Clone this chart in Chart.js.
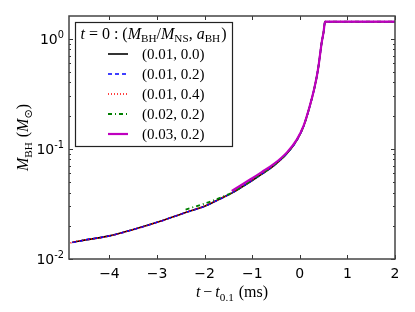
<!DOCTYPE html>
<html>
<head>
<meta charset="utf-8">
<script src="https://cdn.jsdelivr.net/npm/chart.js@4.4.0/dist/chart.umd.min.js"></script>
<style>
html,body{margin:0;padding:0;background:#fff;}
canvas{display:block;}
</style>
</head>
<body>
<canvas id="c" width="415" height="312"></canvas>
<script>
// ---- data (t - t_0.1 in ms, M_BH in solar masses) ----
const times    = [-4.82, -4.78, -4.5, -4.0, -3.5, -3.0, -2.5, -2.4, -2.0, -1.8, -1.5, -1.43, -1.0, -0.8, -0.55, -0.27, -0.06, 0.08, 0.2, 0.3, 0.36, 0.4, 0.43, 0.46, 0.5, 0.53, 1.0, 1.5, 2.0];
const mBlack   = [null, 0.0142, 0.0149, 0.0162, 0.0185, 0.0215, 0.0255, 0.0264, 0.0301, 0.0330, 0.0382, 0.0396, 0.0515, 0.0588, 0.0700, 0.0905, 0.120, 0.160, 0.235, 0.345, 0.460, 0.590, 0.740, 0.920, 1.15, 1.42, 1.42, 1.42, 1.42];
const mBlue    = [null, 0.0141, 0.0149, 0.0162, 0.0185, 0.0215, 0.0255, 0.0264, 0.0301, 0.0330, 0.0382, 0.0397, 0.0517, 0.0590, 0.0702, 0.0907, 0.120, 0.160, 0.235, 0.345, 0.460, 0.590, 0.740, 0.920, 1.15, 1.42, 1.42, 1.42, 1.42];
const mRed     = [0.0140, 0.0142, 0.0149, 0.0162, 0.0185, 0.0215, 0.0255, 0.0264, 0.0302, 0.0331, 0.0383, 0.0397, 0.0518, 0.0591, 0.0704, 0.0910, 0.121, 0.161, 0.236, 0.346, 0.461, 0.591, 0.741, 0.921, 1.15, 1.42, 1.42, 1.42, 1.42];
const mGreen   = [null, null, null, null, null, null, null, 0.0281, 0.0318, 0.0342, 0.0386, 0.0398, 0.0520, 0.0594, 0.0707, 0.0913, 0.121, 0.161, 0.236, 0.346, 0.461, 0.591, 0.741, 0.921, 1.15, 1.42, 1.42, 1.42, 1.42];
const mMagenta = [null, null, null, null, null, null, null, null, null, null, null, 0.0414, 0.0540, 0.0614, 0.0724, 0.0927, 0.1216, 0.162, 0.237, 0.347, 0.462, 0.592, 0.742, 0.922, 1.15, 1.42, 1.42, 1.42, 1.42];
const seriesLabels = ['(0.01, 0.0)', '(0.01, 0.2)', '(0.01, 0.4)', '(0.02, 0.2)', '(0.03, 0.2)'];
const xTicks = [-4, -3, -2, -1, 0, 1, 2];
const yDecades = [-2, -1, 0];

const pts = arr => times.map((t, i) => ({x: t, y: arr[i]})).filter(p => p.y !== null);

const SERIF = '"Liberation Serif", "DejaVu Serif", serif';
const SANS = '"DejaVu Sans", sans-serif';

function drawRich(ctx, parts, x, y, size, measureOnly, extra) {
  let cx = x;
  for (const p of parts) {
    const s = (p.sub || p.sup) ? size * 0.7 : size;
    ctx.font = (p.i ? 'italic ' : '') + s + 'px ' + (p.f || SERIF);
    const dy = p.sub ? size * 0.22 : (p.sup ? -size * 0.42 : 0);
    if (!measureOnly) ctx.fillText(p.t, cx, y + dy);
    cx += ctx.measureText(p.t).width + (p.sp || 0) + (p.gap && extra ? extra : 0);
  }
  return cx - x;
}

const decor = {
  id: 'decor',
  afterDatasetsDraw(chart) {
    const ctx = chart.ctx, a = chart.chartArea;
    const xs = chart.scales.x, ys = chart.scales.y;
    ctx.save();
    ctx.strokeStyle = '#333';
    ctx.fillStyle = '#000';
    ctx.lineWidth = 1;
    // inward ticks
    ctx.beginPath();
    for (const t of xTicks) {
      const px = Math.round(xs.getPixelForValue(t)) + 0.5;
      ctx.moveTo(px, a.bottom); ctx.lineTo(px, a.bottom - 4);
      ctx.moveTo(px, a.top); ctx.lineTo(px, a.top + 4);
    }
    for (let d = -2; d <= 0; d++) {
      for (let k = 1; k <= 9; k++) {
        const v = k * Math.pow(10, d);
        if (v < ys.min || v > ys.max) continue;
        const py = Math.round(ys.getPixelForValue(v)) + 0.5;
        const len = k === 1 ? 4 : 2;
        ctx.moveTo(a.left, py); ctx.lineTo(a.left + len, py);
        ctx.moveTo(a.right, py); ctx.lineTo(a.right - len, py);
      }
    }
    ctx.stroke();
    // frame
    ctx.strokeStyle = '#444';
    ctx.lineWidth = 1.5;
    ctx.strokeRect(a.left, a.top, a.right - a.left, a.bottom - a.top);
    // x tick labels
    ctx.font = '14px ' + SANS;
    ctx.textAlign = 'center';
    ctx.textBaseline = 'alphabetic';
    for (const t of xTicks) {
      const lbl = t < 0 ? '\u2212' + Math.abs(t) : String(t);
      ctx.fillText(lbl, xs.getPixelForValue(t), a.bottom + 19);
    }
    // y tick labels
    ctx.textAlign = 'left';
    for (const d of yDecades) {
      const py = ys.getPixelForValue(Math.pow(10, d));
      const parts = [{t: '10', f: SANS}, {t: d < 0 ? '-' + Math.abs(d) : String(d), sup: true, f: SANS}];
      const w = drawRich(ctx, parts, 0, 0, 14, true);
      drawRich(ctx, parts, a.left - 5 - w, py + 5, 14);
    }
    // x axis title
    const xParts = [{t: 't', i: true, sp: 3}, {t: '\u2212', sp: 3}, {t: 't', i: true}, {t: '0.1', sub: true, sp: 5}, {t: '(ms)'}];
    const xw = drawRich(ctx, xParts, 0, 0, 16, true);
    drawRich(ctx, xParts, (a.left + a.right) / 2 - xw / 2, a.bottom + 38, 16);
    // y axis title
    const yParts = [{t: 'M', i: true}, {t: 'BH', sub: true, sp: 5}, {t: '('}, {t: 'M', i: true}, {t: '\u2299', sub: true, f: SANS}, {t: ')'}];
    const yw = drawRich(ctx, yParts, 0, 0, 16, true);
    ctx.save();
    ctx.translate(28, (a.top + a.bottom) / 2);
    ctx.rotate(-Math.PI / 2);
    drawRich(ctx, yParts, -yw / 2, 0, 16);
    ctx.restore();
    // legend
    const lx = 75.5, ly = 22.5, lw = 157, lh = 124;
    ctx.fillStyle = '#fff';
    ctx.fillRect(lx, ly, lw, lh);
    ctx.lineWidth = 1.2;
    ctx.strokeStyle = '#222';
    ctx.strokeRect(lx, ly, lw, lh);
    ctx.fillStyle = '#000';
    const title = [{t: 't', i: true, gap: 1}, {t: '=', gap: 1}, {t: '0', gap: 1}, {t: ':', gap: 1}, {t: '('}, {t: 'M', i: true}, {t: 'BH', sub: true}, {t: '/'}, {t: 'M', i: true}, {t: 'NS', sub: true}, {t: ',', gap: 1}, {t: 'a', i: true}, {t: 'BH', sub: true, sp: 1}, {t: ')'}];
    const tw = drawRich(ctx, title, 0, 0, 16, true);
    const extra = Math.max(0, (146 - tw) / 5);
    drawRich(ctx, title, 80.5, ly + 16, 16, false, extra);
    chart.data.datasets.forEach((ds, i) => {
      const yy = ly + 31.5 + i * 20;
      ctx.save();
      ctx.strokeStyle = ds.borderColor;
      ctx.lineWidth = ds.borderWidth;
      ctx.setLineDash(ds.borderDash || []);
      ctx.beginPath();
      ctx.moveTo(108, yy); ctx.lineTo(128, yy);
      ctx.stroke();
      ctx.restore();
      ctx.font = '15px ' + SERIF;
      ctx.fillStyle = '#000';
      ctx.textAlign = 'left';
      ctx.fillText(ds.label, 142, yy + 5);
    });
    ctx.restore();
  }
};

new Chart(document.getElementById('c'), {
  type: 'line',
  data: {
    datasets: [
      {label: seriesLabels[0], data: pts(mBlack), borderColor: '#000000', borderWidth: 1.6, order: 5},
      {label: seriesLabels[1], data: pts(mBlue), borderColor: '#0000ff', borderWidth: 1.6, borderDash: [4, 3], order: 4},
      {label: seriesLabels[2], data: pts(mRed), borderColor: '#ff0000', borderWidth: 1.6, borderDash: [1, 2], order: 3},
      {label: seriesLabels[3], data: pts(mGreen), borderColor: '#008000', borderWidth: 1.8, borderDash: [4, 3, 1, 3], order: 2},
      {label: seriesLabels[4], data: pts(mMagenta), borderColor: '#bf00bf', borderWidth: 2.2, order: 1}
    ]
  },
  options: {
    responsive: false,
    animation: false,
    devicePixelRatio: 1,
    layout: {padding: {left: 69, top: 16, right: 20, bottom: 53}},
    elements: {point: {radius: 0}, line: {cubicInterpolationMode: 'monotone', fill: false}},
    plugins: {legend: {display: false}, tooltip: {enabled: false}},
    scales: {
      x: {type: 'linear', min: -4.85, max: 2, display: false},
      y: {type: 'logarithmic', min: 0.01, max: 1.6, display: false}
    }
  },
  plugins: [decor]
});
</script>
</body>
</html>
